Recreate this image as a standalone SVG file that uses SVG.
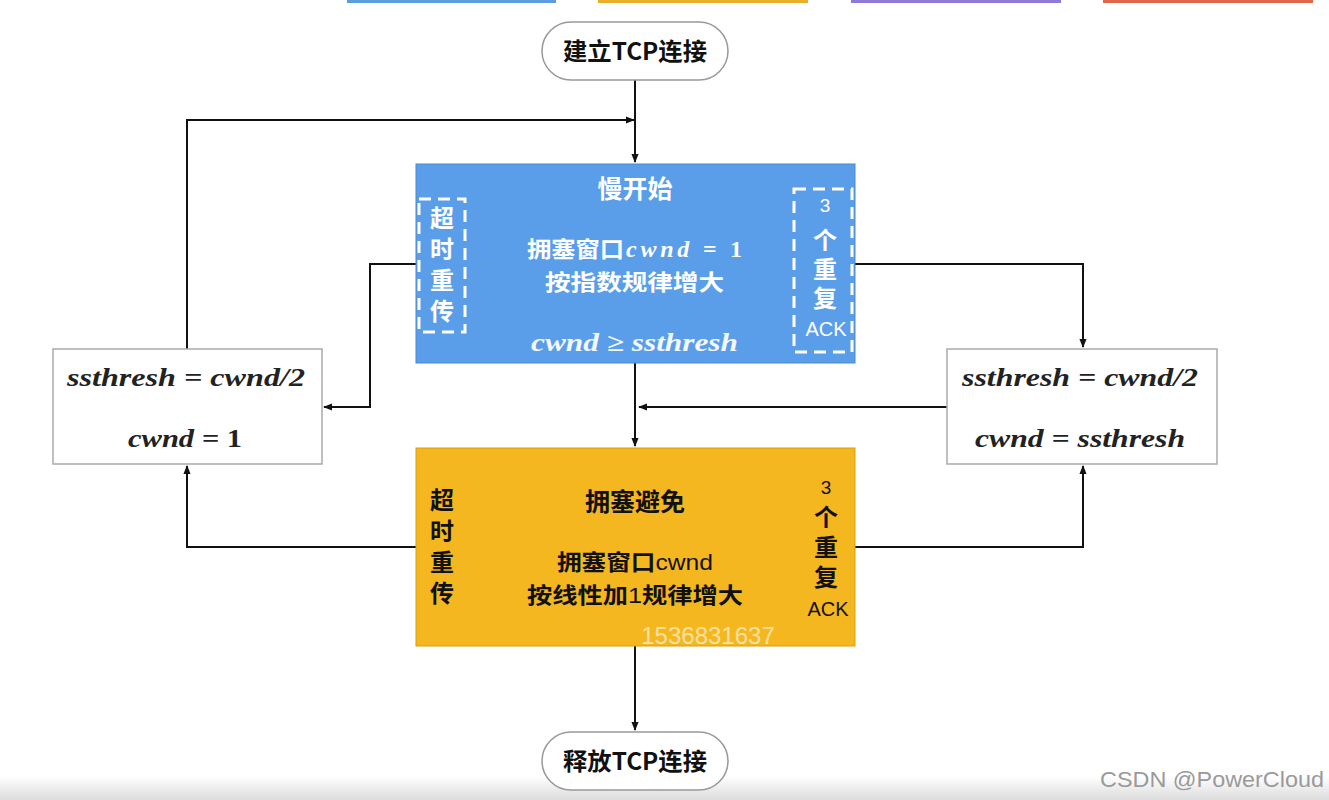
<svg xmlns="http://www.w3.org/2000/svg" width="1329" height="800" viewBox="0 0 1329 800">
<defs>
<marker id="arr" viewBox="0 0 10 10" refX="9" refY="5" markerWidth="9" markerHeight="9" markerUnits="userSpaceOnUse" orient="auto"><path d="M0,1 L10,5 L0,9 z" fill="#111"/></marker>
<linearGradient id="band" x1="0" y1="0" x2="0" y2="1"><stop offset="0" stop-color="#ffffff"/><stop offset="1" stop-color="#dcdcdc"/></linearGradient>
<style>
.cjk{font-family:"Noto Sans CJK SC","Noto Sans",sans-serif;font-weight:bold}
.vert{writing-mode:vertical-rl;font-size:24px}
.w{fill:#ffffff}
.k{fill:#111111}
.math{font-family:"Liberation Serif","DejaVu Serif",serif;font-style:italic;font-weight:bold;font-size:25px;fill:#222}
.conn{fill:none;stroke:#111;stroke-width:2}
.term{fill:#ffffff;stroke:#999;stroke-width:1.5}
.note{fill:#fff;stroke:#aaa;stroke-width:1.5}
.dash{fill:none;stroke:#ffffff;stroke-width:3;stroke-dasharray:12 7}
.lat{font-family:"Liberation Sans",sans-serif}
</style>
</defs>
<rect x="0" y="0" width="1329" height="800" fill="#ffffff"/>
<rect x="0" y="776" width="1329" height="24" fill="url(#band)"/>
<g id="topbars">
<rect x="347" y="0" width="209" height="3" fill="#5b9be0"/>
<rect x="598" y="0" width="210" height="3" fill="#e8b02a"/>
<rect x="851" y="0" width="210" height="3" fill="#8f79d8"/>
<rect x="1103" y="0" width="210" height="3" fill="#e0674a"/>
</g>
<g id="connectors">
<path class="conn" d="M635,80 V162" marker-end="url(#arr)"/>
<path class="conn" d="M187,349 V120 H634" marker-end="url(#arr)"/>
<path class="conn" d="M416,264 H370 V407 H324" marker-end="url(#arr)"/>
<path class="conn" d="M855,264 H1083 V347" marker-end="url(#arr)"/>
<path class="conn" d="M947,407 H639" marker-end="url(#arr)"/>
<path class="conn" d="M635,363 V446" marker-end="url(#arr)"/>
<path class="conn" d="M416,547 H187 V466" marker-end="url(#arr)"/>
<path class="conn" d="M855,547 H1083 V466" marker-end="url(#arr)"/>
<path class="conn" d="M635,646 V730" marker-end="url(#arr)"/>
</g>
<g id="start">
<rect class="term" x="542" y="22" width="186" height="58" rx="29"/>
<text class="cjk k" x="563" y="60" font-size="24" textLength="144" lengthAdjust="spacingAndGlyphs">建立TCP连接</text>
</g>
<g id="slowstart">
<rect x="416" y="164" width="439" height="199" fill="#5a9eea" stroke="#4a88cc" stroke-width="1"/>
<text class="cjk w" x="635" y="198" font-size="25" text-anchor="middle">慢开始</text>
<text class="cjk w" x="527" y="257" font-size="22" textLength="97" lengthAdjust="spacingAndGlyphs">拥塞窗口</text>
<text class="w" x="626" y="257" font-size="24" font-family="Liberation Serif,serif" font-style="italic" font-weight="bold" textLength="116" lengthAdjust="spacing">cwnd = <tspan font-style="normal">1</tspan></text>
<text class="cjk w" x="545" y="290" font-size="22" textLength="179" lengthAdjust="spacingAndGlyphs">按指数规律增大</text>
<text x="531" y="351" font-size="25" font-family="Liberation Serif,serif" font-style="italic" font-weight="bold" fill="#f4f8ff" textLength="207" lengthAdjust="spacingAndGlyphs">cwnd ≥ ssthresh</text>
<rect class="dash" x="419" y="199" width="46" height="133"/>
<text class="cjk w vert" x="442" y="206" letter-spacing="7">超时重传</text>
<rect class="dash" x="794" y="189" width="58" height="163"/>
<text class="w lat" font-size="19" x="825" y="212" text-anchor="middle">3</text>
<text class="cjk w vert" x="825" y="228" letter-spacing="5">个重复</text>
<text class="w lat" font-size="20" x="826" y="336" text-anchor="middle">ACK</text>
</g>
<g id="leftbox">
<rect class="note" x="53" y="349" width="269" height="115"/>
<text class="math" x="67" y="386" textLength="238" lengthAdjust="spacingAndGlyphs">ssthresh = cwnd/2</text>
<text class="math" x="128" y="447" textLength="114" lengthAdjust="spacingAndGlyphs">cwnd = <tspan font-style="normal">1</tspan></text>
</g>
<g id="rightbox">
<rect class="note" x="947" y="349" width="270" height="115"/>
<text class="math" x="962" y="386" textLength="236" lengthAdjust="spacingAndGlyphs">ssthresh = cwnd/2</text>
<text class="math" x="975" y="447" textLength="210" lengthAdjust="spacingAndGlyphs">cwnd = ssthresh</text>
</g>
<g id="avoid">
<rect x="416" y="448" width="439" height="198" fill="#f5b71f" stroke="#d99e10" stroke-width="1"/>
<text class="cjk k" x="635" y="511" font-size="25" text-anchor="middle">拥塞避免</text>
<text class="cjk k" x="557" y="570" font-size="22" textLength="156" lengthAdjust="spacingAndGlyphs">拥塞窗口<tspan class="lat" font-weight="normal">cwnd</tspan></text>
<text class="cjk k" x="527" y="603" font-size="22" textLength="216" lengthAdjust="spacingAndGlyphs">按线性加<tspan class="lat" font-weight="normal">1</tspan>规律增大</text>
<text class="cjk k vert" x="442" y="488" letter-spacing="7">超时重传</text>
<text class="k lat" font-size="19" x="826" y="494" text-anchor="middle">3</text>
<text class="cjk k vert" x="826" y="505" letter-spacing="6">个重复</text>
<text class="k lat" font-size="20" x="828" y="616" text-anchor="middle">ACK</text>
<text x="708" y="644" class="lat" font-size="24" fill="#fbe1a0" text-anchor="middle">1536831637</text>
</g>
<g id="end">
<rect class="term" x="542" y="732" width="186" height="58" rx="29"/>
<text class="cjk k" x="563" y="770" font-size="24" textLength="144" lengthAdjust="spacingAndGlyphs">释放TCP连接</text>
</g>
<text x="1212" y="787" class="lat" font-size="22" fill="#9a9a9a" text-anchor="middle" textLength="224" lengthAdjust="spacingAndGlyphs">CSDN @PowerCloud</text>
</svg>
